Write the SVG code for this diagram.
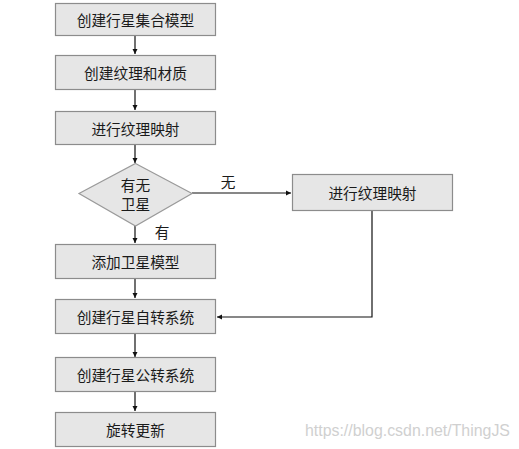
<svg xmlns="http://www.w3.org/2000/svg" width="519" height="449" viewBox="0 0 519 449">
<style>
.box{fill:#e6e6e6;stroke:#8c8c8c;stroke-width:1.2}
.t{font-family:"Noto Sans CJK SC","Liberation Sans",sans-serif;font-size:14.7px;fill:#1a1a1a;text-anchor:middle;dominant-baseline:central}
.c{stroke:#111;stroke-width:1.2;fill:none;marker-end:url(#ah)}
.wm{font-family:"Liberation Sans",Arial,sans-serif;font-size:15.9px;fill:#d0d0d0}
</style>
<defs>
<marker id="ah" markerWidth="6" markerHeight="6" refX="5" refY="3" orient="auto" markerUnits="userSpaceOnUse">
<path d="M0,0.5 L5,3 L0,5.5 z" fill="#111"/>
</marker>
</defs>
<rect width="519" height="449" fill="#fff"/>
<g id="connectors">
<line class="c" x1="135" y1="35" x2="135" y2="54"/>
<line class="c" x1="135" y1="90" x2="135" y2="110"/>
<line class="c" x1="135" y1="145" x2="135" y2="163"/>
<line class="c" x1="192" y1="193" x2="291" y2="193"/>
<line class="c" x1="135" y1="226" x2="135" y2="243"/>
<line class="c" x1="135" y1="279" x2="135" y2="298"/>
<polyline class="c" points="372,211 372,317 217,317"/>
<line class="c" x1="135" y1="334" x2="135" y2="357"/>
<line class="c" x1="135" y1="392" x2="135" y2="411"/>
<text class="t" x="228" y="181">无</text>
<text class="t" x="162" y="231">有</text>
</g>
<g id="n1"><rect class="box" x="55.5" y="3.5" width="160" height="32"/><text class="t" x="135.5" y="19.5">创建行星集合模型</text></g>
<g id="n2"><rect class="box" x="55.5" y="55.5" width="160" height="34"/><text class="t" x="135.5" y="72.5">创建纹理和材质</text></g>
<g id="n3"><rect class="box" x="55.5" y="111.5" width="160" height="33"/><text class="t" x="135.5" y="128">进行纹理映射</text></g>
<g id="d1"><polygon points="135.5,163.5 192,193.5 135.5,226 79,193.5" fill="#e6e6e6" stroke="#9a9a9a" stroke-width="1.2"/><text class="t" x="135.5" y="183.5"><tspan x="135.5" y="183.5">有无</tspan><tspan x="135.5" y="202.5">卫星</tspan></text></g>
<g id="n4"><rect class="box" x="292.5" y="174.5" width="160" height="36"/><text class="t" x="372.5" y="192.5">进行纹理映射</text></g>
<g id="n5"><rect class="box" x="55.5" y="244.5" width="160" height="34"/><text class="t" x="135.5" y="261.5">添加卫星模型</text></g>
<g id="n6"><rect class="box" x="55.5" y="299.5" width="160" height="34"/><text class="t" x="135.5" y="316.5">创建行星自转系统</text></g>
<g id="n7"><rect class="box" x="55.5" y="357.5" width="160" height="34"/><text class="t" x="135.5" y="374.5">创建行星公转系统</text></g>
<g id="n8"><rect class="box" x="55.5" y="412.5" width="160" height="34"/><text class="t" x="135.5" y="429.5">旋转更新</text></g>
<text class="wm" x="305" y="436">https://blog.csdn.net/ThingJS</text>
</svg>
